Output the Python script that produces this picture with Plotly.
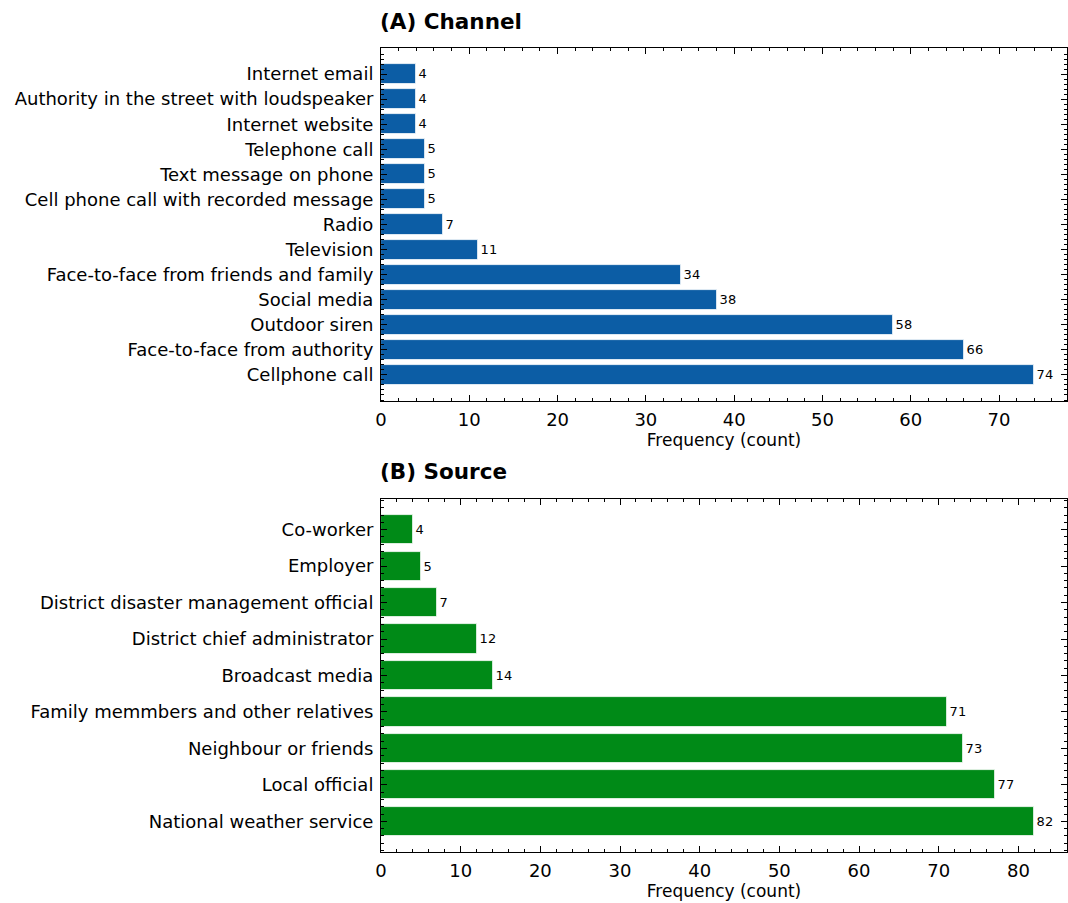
import plotly.graph_objects as go
from plotly.subplots import make_subplots

# Panel A: warning channels (listed bottom to top)
channel_names = [
    "Cellphone call",
    "Face-to-face from authority",
    "Outdoor siren",
    "Social media",
    "Face-to-face from friends and family",
    "Television",
    "Radio",
    "Cell phone call with recorded message",
    "Text message on phone",
    "Telephone call",
    "Internet website",
    "Authority in the street with loudspeaker",
    "Internet email",
]
channel_counts = [74, 66, 58, 38, 34, 11, 7, 5, 5, 5, 4, 4, 4]

# Panel B: warning sources (listed bottom to top)
source_names = [
    "National weather service",
    "Local official",
    "Neighbour or friends",
    "Family memmbers and other relatives",
    "Broadcast media",
    "District chief administrator",
    "District disaster management official",
    "Employer",
    "Co-worker",
]
source_counts = [82, 77, 73, 71, 14, 12, 7, 5, 4]

BLUE = "#0C5DA5"
GREEN = "#008A17"
FONT = "DejaVu Sans"

W, H = 1068, 903
LEFT, RIGHT = 381, 1067
A_TOP, A_BOT = 48, 401
B_TOP, B_BOT = 499, 852

fig = make_subplots(rows=2, cols=1)

panels = [
    (1, channel_names, channel_counts, BLUE, (A_TOP, A_BOT)),
    (2, source_names, source_counts, GREEN, (B_TOP, B_BOT)),
]

for row, names, counts, color, (top, bot) in panels:
    pos = list(range(len(names)))
    fig.add_trace(
        go.Bar(
            x=counts,
            y=pos,
            orientation="h",
            width=0.8,
            marker=dict(color=color, line=dict(color="white", width=0.8)),
            text=[str(c) for c in counts],
            textposition="outside",
            textfont=dict(family=FONT, size=13, color="black"),
            cliponaxis=False,
            showlegend=False,
        ),
        row=row,
        col=1,
    )
    n = len(names)
    xmax = max(counts) * 1.05
    ymin = -0.4 - 0.05 * (n - 1 + 0.8)
    ymax = n - 1 + 0.4 + 0.05 * (n - 1 + 0.8)
    axis_common = dict(
        showline=True,
        linecolor="black",
        linewidth=1,
        mirror="allticks",
        ticks="inside",
        ticklen=6,
        tickwidth=1,
        tickcolor="black",
        showgrid=False,
        zeroline=False,
        tickfont=dict(family=FONT, size=18, color="black"),
    )
    fig.update_xaxes(
        range=[0, xmax],
        dtick=10,
        tick0=0,
        ticklabelstandoff=2,
        minor=dict(dtick=2, ticks="inside", ticklen=3, tickcolor="black", showgrid=False),
        title=dict(text="Frequency (count)", font=dict(family=FONT, size=17, color="black"), standoff=4),
        row=row,
        col=1,
        **axis_common,
    )
    fig.update_yaxes(
        range=[ymin, ymax],
        tickmode="array",
        tickvals=pos,
        ticktext=names,
        ticklabelstandoff=3,
        minor=dict(dtick=0.2, tick0=0, ticks="inside", ticklen=3, tickcolor="black", showgrid=False),
        row=row,
        col=1,
        **axis_common,
    )

fig.update_layout(
    xaxis=dict(domain=[0, 1]),
    xaxis2=dict(domain=[0, 1]),
    yaxis=dict(domain=[1 - A_BOT / H, 1 - A_TOP / H]),
    yaxis2=dict(domain=[1 - B_BOT / H, 1 - B_TOP / H]),
    bargap=0,
)

for label, top in [("(A) Channel", A_TOP), ("(B) Source", B_TOP)]:
    fig.add_annotation(
        text=f"<b>{label}</b>",
        xref="paper",
        yref="paper",
        x=0,
        y=1 - (top - 27) / H,
        xanchor="left",
        xshift=-3,
        yanchor="middle",
        showarrow=False,
        font=dict(family=FONT, size=21.5, color="black"),
    )

fig.update_layout(
    width=W,
    height=H,
    margin=dict(l=LEFT, r=W - RIGHT, t=0, b=0),
    plot_bgcolor="white",
    paper_bgcolor="white",
    font=dict(family=FONT, color="black"),
)

fig.write_html("out.html")
